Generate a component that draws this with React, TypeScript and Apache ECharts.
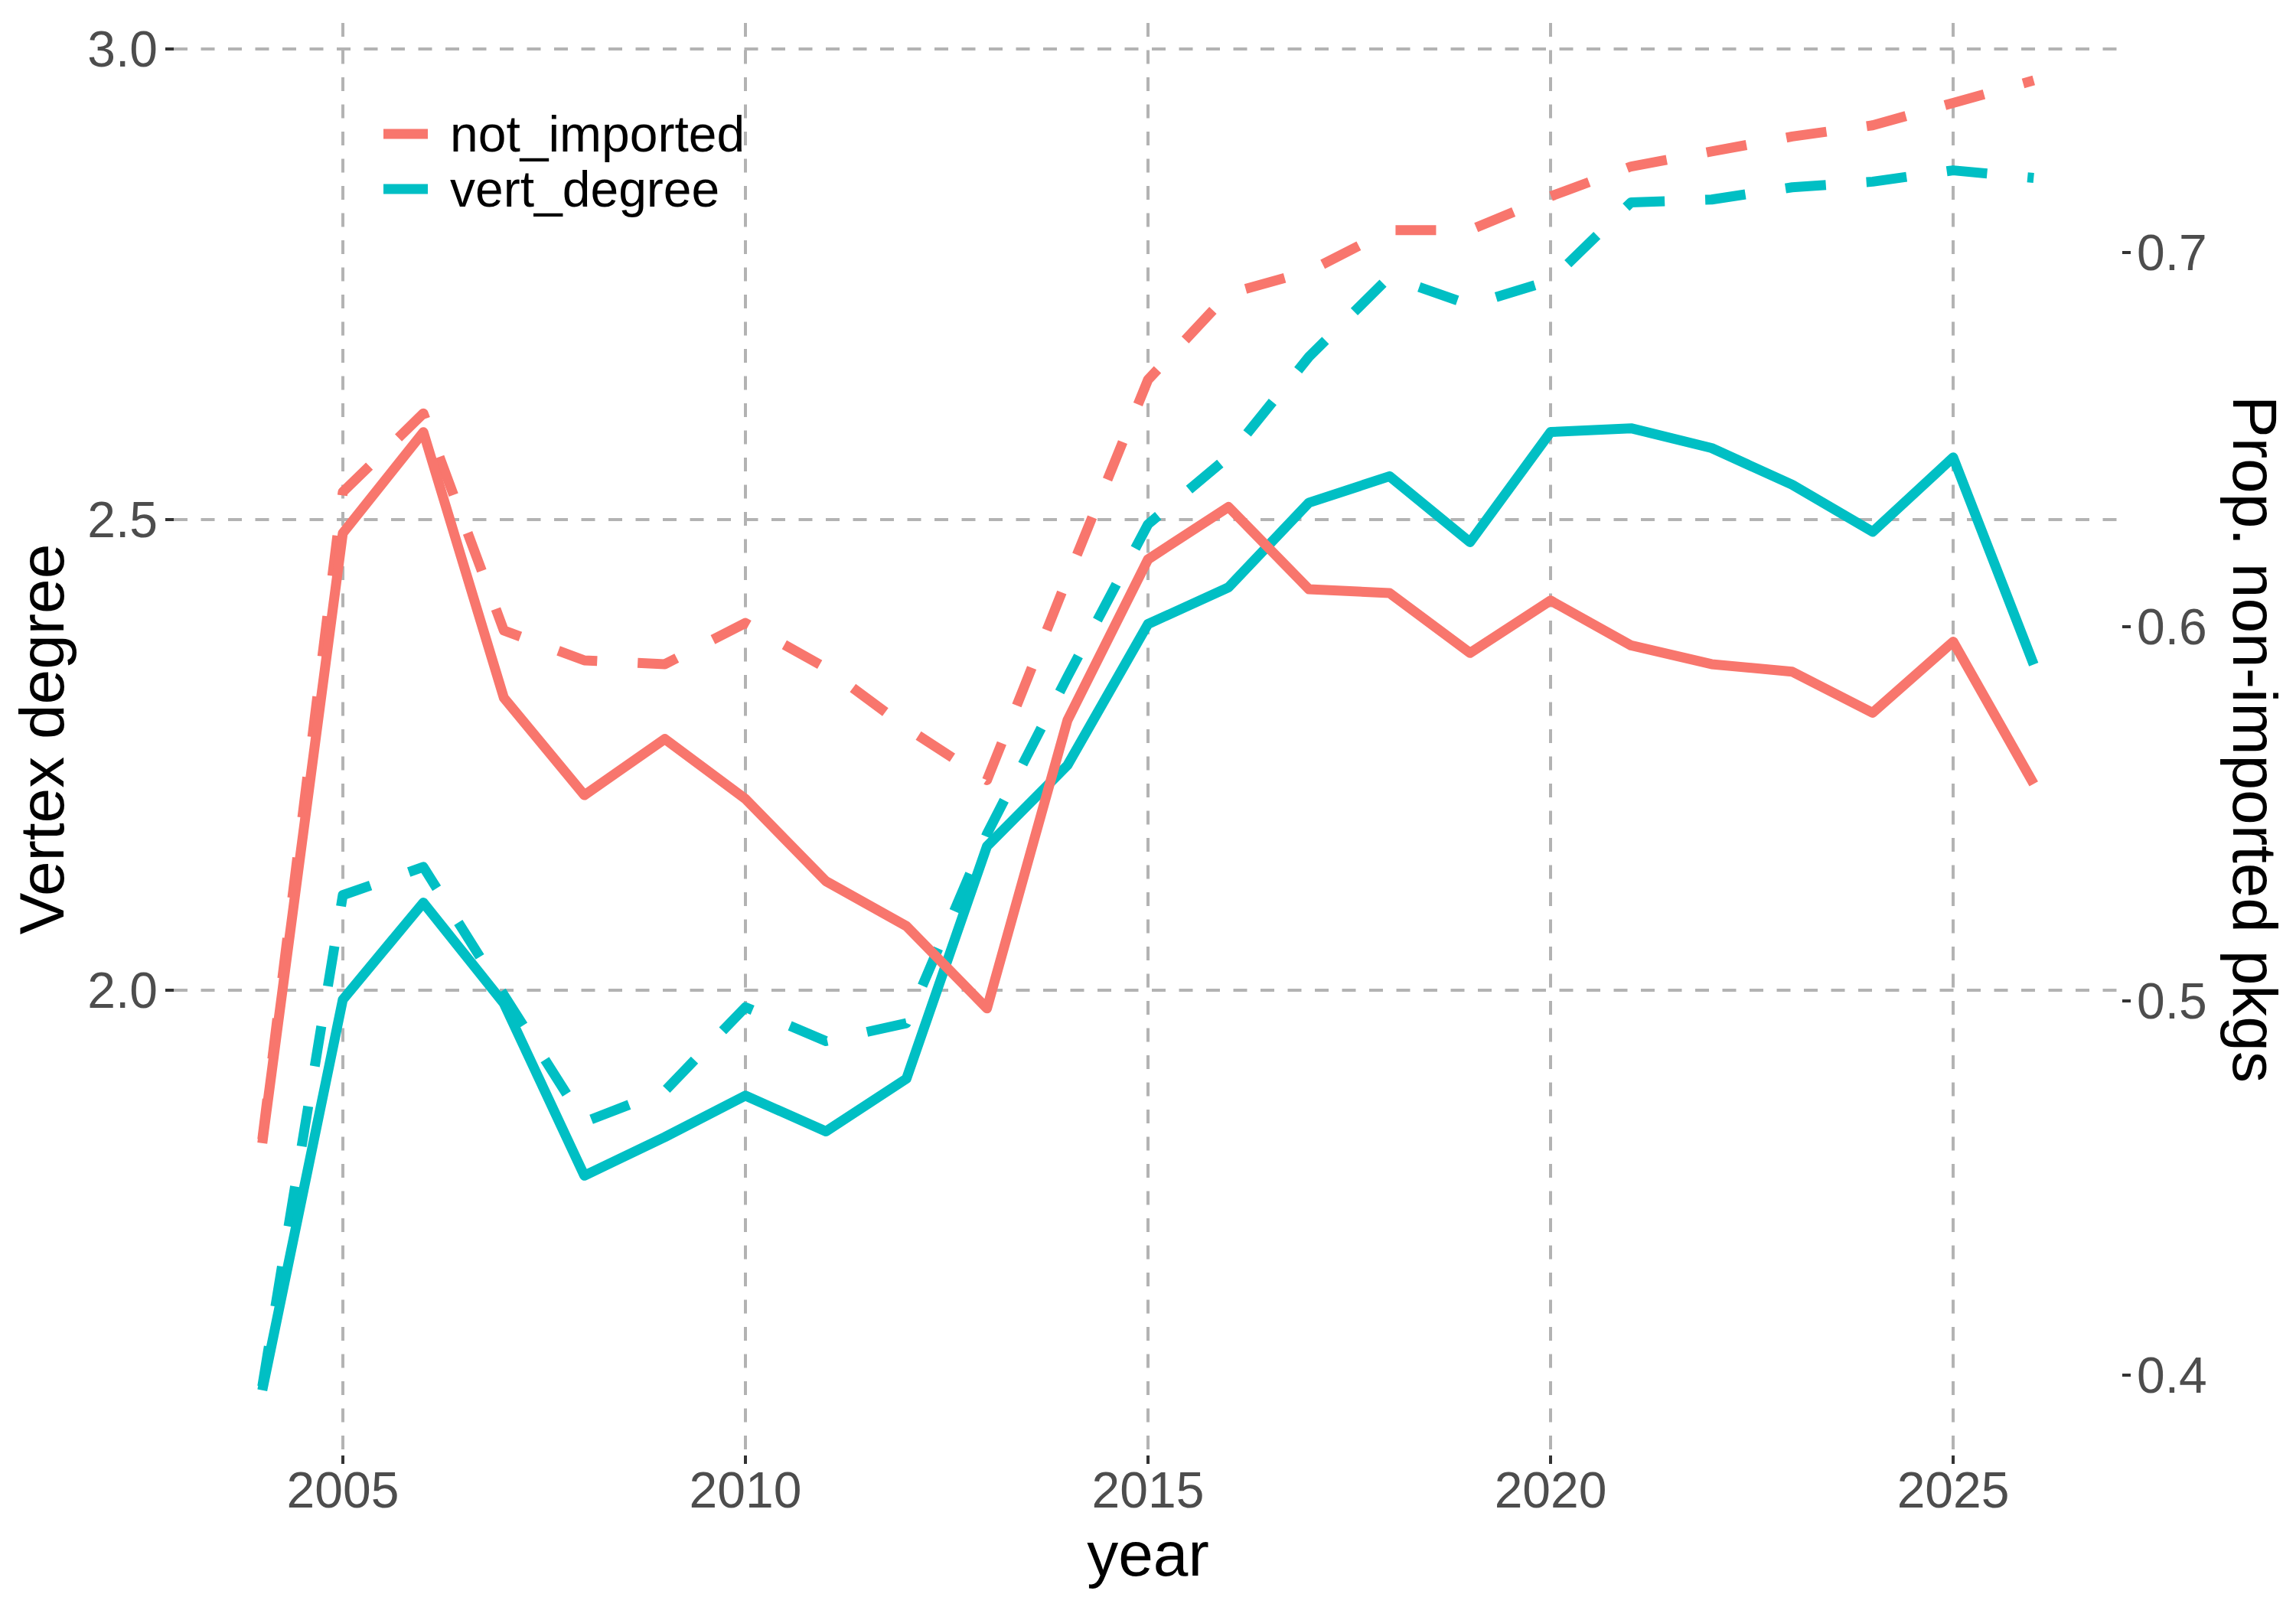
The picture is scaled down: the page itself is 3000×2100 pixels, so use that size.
import React, { useEffect, useRef } from 'react';
import * as echarts from 'echarts';

const years = [2004, 2005, 2006, 2007, 2008, 2009, 2010, 2011, 2012, 2013, 2014, 2015, 2016, 2017, 2018, 2019, 2020, 2021, 2022, 2023, 2024, 2025, 2026];

// Proportion of non-imported packages (right axis)
const notImportedSolid = [0.462, 0.625, 0.652, 0.581, 0.555, 0.570, 0.554, 0.532, 0.520, 0.498, 0.575, 0.618, 0.632, 0.610, 0.609, 0.593, 0.607, 0.595, 0.590, 0.588, 0.577, 0.596, 0.558];
const notImportedDashed = [0.463, 0.636, 0.657, 0.599, 0.591, 0.590, 0.601, 0.589, 0.573, 0.559, 0.613, 0.666, 0.689, 0.695, 0.706, 0.706, 0.715, 0.723, 0.727, 0.731, 0.734, 0.740, 0.746];

// Vertex degree (left axis)
const vertDegreeSolid = [1.575, 1.990, 2.093, 1.986, 1.803, 1.844, 1.888, 1.850, 1.906, 2.153, 2.239, 2.389, 2.428, 2.518, 2.546, 2.476, 2.593, 2.597, 2.576, 2.537, 2.487, 2.566, 2.346];
const vertDegreeDashed = [1.579, 2.101, 2.131, 1.995, 1.860, 1.893, 1.982, 1.946, 1.965, 2.166, 2.333, 2.495, 2.567, 2.673, 2.758, 2.728, 2.754, 2.837, 2.840, 2.853, 2.859, 2.871, 2.863];

const xTicks = [2005, 2010, 2015, 2020, 2025];
const leftTicks = [2.0, 2.5, 3.0];
const rightTicks = [0.4, 0.5, 0.6, 0.7];

const RED = '#F8766D';
const TEAL = '#00BFC4';
const FONT = '"Liberation Sans", Arial, Helvetica, sans-serif';
const GRID_COLOR = '#b3b3b3';
const TICK_COLOR = '#333333';
const LABEL_COLOR = '#4d4d4d';

function makeSeries(name: string, values: number[], color: string, dashed: boolean, yAxisIndex: number) {
  return {
    type: 'line',
    name,
    yAxisIndex,
    data: years.map((y, i) => [y, values[i]]),
    symbol: 'none',
    showSymbol: false,
    itemStyle: { color },
    lineStyle: {
      color,
      width: 13,
      type: dashed ? [53, 53] : 'solid',
      join: 'round',
      cap: 'butt',
    },
    emphasis: { disabled: true },
  };
}

export default function App() {
  const ref = useRef<HTMLDivElement>(null);

  useEffect(() => {
    if (!ref.current) return;
    const chart = echarts.init(ref.current, null, { renderer: 'svg' });
    const option: any = {
      animation: false,
      backgroundColor: '#ffffff',
      textStyle: { fontFamily: FONT },
      grid: { left: 227, right: 227, top: 30, bottom: 198, containLabel: false },
      legend: {
        show: true,
        orient: 'vertical',
        left: 501,
        top: 139,
        padding: 0,
        itemGap: 0,
        itemWidth: 58,
        itemHeight: 13,
        icon: 'rect',
        itemStyle: { borderWidth: 0 },
        data: ['not_imported', 'vert_degree'],
        textStyle: {
          fontSize: 66,
          color: '#000000',
          fontFamily: FONT,
          lineHeight: 72,
          padding: [0, 0, 0, 24],
        },
        selectedMode: false,
      },
      xAxis: {
        type: 'value',
        min: 2002.9,
        max: 2027.1,
        axisLine: { show: false },
        axisTick: {
          show: true,
          length: 11,
          customValues: xTicks,
          lineStyle: { color: TICK_COLOR, width: 4 },
        },
        axisLabel: {
          customValues: xTicks,
          fontSize: 66,
          color: LABEL_COLOR,
          fontFamily: FONT,
          margin: 12,
          formatter: (v: number) => String(v),
        },
        splitLine: {
          show: true,
          lineStyle: { color: GRID_COLOR, width: 4, type: [18, 17.5] },
        },
        name: 'year',
        nameLocation: 'middle',
        nameGap: 87,
        nameTextStyle: { fontSize: 82, color: '#000000', fontFamily: FONT },
      },
      yAxis: [
        {
          type: 'value',
          position: 'left',
          min: 1.5057,
          max: 3.0276,
          axisLine: { show: false },
          axisTick: {
            show: true,
            length: 11,
            customValues: leftTicks,
            lineStyle: { color: TICK_COLOR, width: 4 },
          },
          axisLabel: {
            customValues: leftTicks,
            fontSize: 66,
            color: LABEL_COLOR,
            fontFamily: FONT,
            margin: 21,
            formatter: (v: number) => v.toFixed(1),
          },
          splitLine: {
            show: true,
            lineStyle: { color: GRID_COLOR, width: 4, type: [18, 17.5] },
          },
          name: 'Vertex degree',
          nameLocation: 'middle',
          nameGap: 132,
          nameTextStyle: { fontSize: 82, color: '#000000', fontFamily: FONT },
        },
        {
          type: 'value',
          position: 'right',
          min: 0.37853,
          max: 0.76135,
          axisLine: { show: false },
          axisTick: {
            show: true,
            length: 11,
            customValues: rightTicks,
            lineStyle: { color: TICK_COLOR, width: 4 },
          },
          axisLabel: {
            customValues: rightTicks,
            fontSize: 66,
            color: LABEL_COLOR,
            fontFamily: FONT,
            margin: 19,
            formatter: (v: number) => v.toFixed(1),
          },
          splitLine: { show: false },
          name: 'Prop. non-imported pkgs',
          nameLocation: 'middle',
          nameRotate: -90,
          nameGap: 132,
          nameTextStyle: { fontSize: 82, color: '#000000', fontFamily: FONT },
        },
      ],
      series: [
        makeSeries('vert_degree', vertDegreeDashed, TEAL, true, 0),
        makeSeries('vert_degree', vertDegreeSolid, TEAL, false, 0),
        makeSeries('not_imported', notImportedDashed, RED, true, 1),
        makeSeries('not_imported', notImportedSolid, RED, false, 1),
      ],
    };
    chart.setOption(option);
    return () => chart.dispose();
  }, []);

  return (
    <div
      ref={ref}
      style={{ position: 'absolute', left: 0, top: 0, width: 3000, height: 2100, background: '#ffffff' }}
    />
  );
}
